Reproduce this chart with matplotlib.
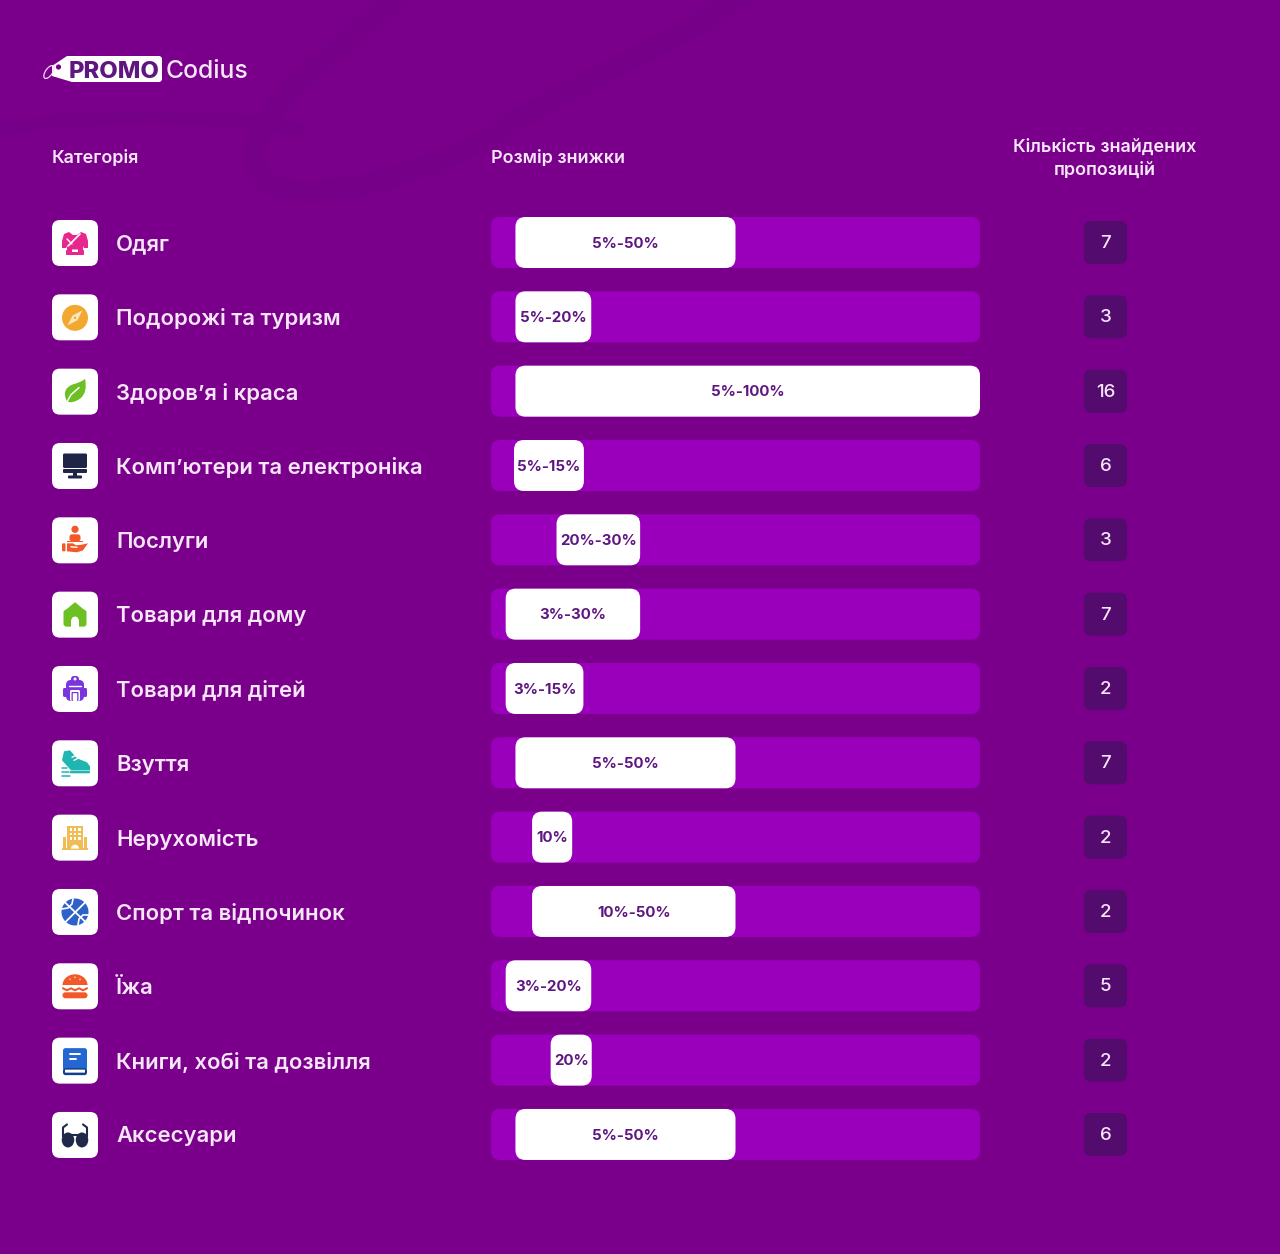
import matplotlib
matplotlib.use("Agg")
import matplotlib.pyplot as plt
from matplotlib.patches import FancyBboxPatch, Polygon, Circle, PathPatch, Ellipse, Wedge, Rectangle
from matplotlib.path import Path

plt.rcParams['font.family'] = ['Inter', 'Roboto', 'DejaVu Sans']

# ---------- data ----------
categories = ["Одяг", "Подорожі та туризм", "Здоров’я і краса", "Комп’ютери та електроніка",
              "Послуги", "Товари для дому", "Товари для дітей", "Взуття", "Нерухомість",
              "Спорт та відпочинок", "Їжа", "Книги, хобі та дозвілля", "Аксесуари"]
range_labels = ["5%-50%", "5%-20%", "5%-100%", "5%-15%", "20%-30%", "3%-30%", "3%-15%",
                "5%-50%", "10%", "10%-50%", "3%-20%", "20%", "5%-50%"]
# pill extents as drawn, read on the 0-100 track
pill_start = [5.0, 5.0, 5.0, 4.7, 13.4, 3.0, 3.0, 5.0, 8.4, 8.4, 3.0, 12.2, 5.0]
pill_end = [50.0, 20.5, 100.0, 19.0, 30.5, 30.5, 18.9, 50.0, 16.6, 50.0, 20.5, 20.6, 50.0]
offer_counts = [7, 3, 16, 6, 3, 7, 2, 7, 2, 2, 5, 2, 6]
headers = ["Категорія", "Розмір знижки", "Кількість знайдених\nпропозицій"]

BG = "#7A008C"
TRACK = "#9A00BC"
PILL_TXT = "#5F1680"
COUNT_BG = "#530B6E"
LIGHT = "#F6E6F8"
W, H = 1280, 1254
ROW0, ROWSTEP = 242.5, 74.33
n = len(categories)


def row_y(i):
    return ROW0 + ROWSTEP * i


fig = plt.figure(figsize=(W / 100, H / 100), dpi=100, facecolor=BG)
ax = fig.add_axes([0, 0, 1, 1])
ax.set_xlim(0, W)
ax.set_ylim(H, 0)
ax.axis("off")

# ---------- faint background swirl ----------
swirl_col = "#770088"
for verts, lw in [
    ([(405, -10), (330, 60), (245, 110), (255, 165), (265, 215), (400, 190), (500, 130),
      (600, 70), (700, 30), (750, -10)], 22),
    ([(-10, 130), (90, 115), (190, 110), (300, 130)], 14),
]:
    codes = [Path.MOVETO] + [Path.CURVE4] * (len(verts) - 1)
    ax.add_patch(PathPatch(Path(verts, codes), fc="none", ec=swirl_col, lw=lw * 0.72, capstyle="round", zorder=0))


# ---------- shape helpers ----------
def rr(x0, y0, x1, y1, r, col, z=3, a=ax, **kw):
    p = FancyBboxPatch((x0, y0), x1 - x0, y1 - y0, boxstyle=f"round,pad=0,rounding_size={r}",
                       fc=col, ec="none", zorder=z, **kw)
    a.add_patch(p)
    return p


def poly(cx, cy, pts, col, z=4):
    ax.add_patch(Polygon([(cx + x, cy + y) for x, y in pts], closed=True, fc=col, ec="none", zorder=z))


def circ(cx, cy, r, col, z=4):
    ax.add_patch(Circle((cx, cy), r, fc=col, ec="none", zorder=z))


def line(cx, cy, pts, col, lw=1.4, z=5):
    ax.plot([cx + p[0] for p in pts], [cy + p[1] for p in pts], color=col, lw=lw, zorder=z,
            solid_capstyle="round", solid_joinstyle="round")


def curve(cx, cy, verts, col, z=4):
    v = [(cx + x, cy + y) for x, y in verts]
    codes = [Path.MOVETO] + [Path.CURVE3] * (len(v) - 2) + [Path.CLOSEPOLY]
    ax.add_patch(PathPatch(Path(v, codes), fc=col, ec="none", zorder=z))


# ---------- icons (pictograms on the tiles) ----------
def icon_clothes(x, y):
    c = "#E8278E"
    poly(x, y, [(-6, -11), (-2, -8), (2, -8), (6, -11), (11, -9), (13, -2), (13, 5), (9, 5), (8, 3), (8, 8),
                (-8, 8), (-8, 3), (-9, 5), (-13, 5), (-13, -2), (-11, -9)], c)
    line(x, y, [(-7, 3), (5, -9)], "white", 1.2)
    line(x, y, [(-8, -4), (-3, 1)], "white", 1.0)
    rr(x - 9, y + 7, x + 9, y + 12, 0.8, c, z=4)
    rr(x - 3, y + 6.5, x + 3, y + 9, 0.5, "white", z=5)


def icon_compass(x, y):
    circ(x, y, 13, "#F2A72E")
    poly(x, y, [(7.5, -7.5), (2.4, 2.4), (-7.5, 7.5), (-2.4, -2.4)], "#FBE6BD", z=5)
    circ(x, y, 1.2, "#F2A72E", z=6)


def icon_leaf(x, y):
    c = "#6CC024"
    curve(x, y, [(-8, 10), (-14, -2), (-3, -7), (8, -10), (10, -13), (13, 1), (5, 7), (-2, 12), (-8, 10), (-8, 10)], c)
    line(x, y, [(-9, 12), (-4, 3), (4, -4)], "white", 1.1)


def icon_monitor(x, y):
    c = "#1F2547"
    rr(x - 12, y - 12, x + 12, y + 2.5, 1.5, c, z=4)
    rr(x - 12, y + 3.5, x + 12, y + 7.5, 1, c, z=4)
    ax.add_patch(Rectangle((x - 2, y + 7), 4, 4, fc=c, ec="none", zorder=4))
    rr(x - 7, y + 10, x + 7, y + 13, 1, c, z=4)


def icon_service(x, y):
    c = "#F2592A"
    circ(x, y - 11, 3.6, c)
    rr(x - 5.5, y - 6, x + 5.5, y + 1, 2.5, c, z=4)
    ax.add_patch(Rectangle((x - 8, y + 0.5), 16, 1.6, fc=c, ec="none", zorder=4))
    rr(x - 13, y + 3, x - 9.5, y + 11, 1, c, z=4)
    poly(x, y, [(-8, 3), (-2, 3), (1, 5), (6, 4.5), (13, 3), (8, 10), (2, 12), (-8, 11)], c)
    line(x, y, [(-4, 6.5), (2, 7)], "white", 1.0)


def icon_home(x, y):
    c = "#6CC024"
    rr(x - 11.5, y - 5, x + 11.5, y + 12, 3, c, z=4)
    poly(x, y, [(0, -12.5), (11.3, -3), (-11.3, -3)], c)
    circ(x, y + 5.5, 3.6, "white", z=5)
    ax.add_patch(Rectangle((x - 3.6, y + 5.5), 7.2, 6.6, fc="white", ec="none", zorder=5))


def icon_backpack(x, y):
    c = "#7A36DC"
    rr(x - 9, y - 9, x + 9, y + 12, 5, c, z=4)
    rr(x - 4, y - 13, x + 4, y - 6, 3, c, z=4)
    circ(x, y - 10, 1.5, "white", z=5)
    rr(x - 12, y - 1, x - 8, y + 8, 1.5, c, z=4)
    rr(x + 8, y - 1, x + 12, y + 8, 1.5, c, z=4)
    rr(x - 5, y + 1, x + 5, y + 12, 1.5, "white", z=5)
    rr(x - 3.5, y + 3, x + 3.5, y + 12, 1, c, z=6)
    rr(x - 2.2, y + 4.2, x + 2.2, y + 12, 0.5, "white", z=7)
    line(x, y, [(-6, -3), (6, -3)], "white", 1.0)


def icon_shoe(x, y):
    c = "#1FB5B0"
    poly(x, y, [(-11, -12), (-5, -13), (2, -5), (12, -1), (15, 3), (15, 7), (-4, 7), (-13, -3)], c)
    rr(x - 5, y + 7.5, x + 15, y + 10, 1, c, z=4)
    line(x, y, [(-3, -6), (1, -8)], "white", 1.0)
    line(x, y, [(-1, -3), (3, -5)], "white", 1.0)
    for dy, x0, x1 in [(5, -13, -8), (9, -13, -6), (12.5, -13, -5)]:
        line(x, y, [(x0, dy), (x1, dy)], c, 1.1)


def icon_building(x, y):
    c = "#F2BC55"
    ax.add_patch(Rectangle((x - 8, y - 12), 16, 23, fc=c, ec="none", zorder=4))
    ax.add_patch(Rectangle((x - 12, y - 1), 3, 12, fc=c, ec="none", zorder=4))
    ax.add_patch(Rectangle((x + 9, y - 1), 3, 12, fc=c, ec="none", zorder=4))
    ax.add_patch(Rectangle((x - 13, y + 10.5), 26, 1.6, fc=c, ec="none", zorder=4))
    for r in range(3):
        for col in range(3):
            ax.add_patch(Rectangle((x - 5.5 + col * 4.2, y - 9.5 + r * 4.5), 2.6, 2.6, fc="white", ec="none", zorder=5))
    ax.add_patch(Wedge((x, y + 11), 4, 180, 360, fc="white", ec="none", zorder=5))


def icon_ball(x, y):
    c = "#2F62C8"
    circ(x, y, 13.5, c)
    line(x, y, [(-10, -9.5), (10, 9.5)], "white", 1.3)
    line(x, y, [(-9.5, 10), (10, -9.5)], "white", 1.3)
    ax.plot(*zip(*[(x - 2 + px, y - 13 + py) for px, py in [(0, 0), (-1, 5), (-5, 9), (-11, 10)]]), color="white", lw=1.2, zorder=5)
    ax.plot(*zip(*[(x + 13 + px, y + 3 + py) for px, py in [(0, 0), (-5, 0), (-9, 4), (-10, 10)]]), color="white", lw=1.2, zorder=5)


def icon_burger(x, y):
    c = "#F2592A"
    ax.add_patch(Ellipse((x, y - 1), 25, 22, fc=c, ec="none", zorder=4))
    ax.add_patch(Rectangle((x - 14, y - 1), 28, 12, fc="white", ec="none", zorder=4.5))
    for px, py in [(-5, -7), (0, -9), (5, -7)]:
        circ(x + px, y + py, 0.8, "#FBD9CB", z=5)
    line(x, y, [(-12, 2), (-8, 4), (-4, 2), (0, 4), (4, 2), (8, 4), (12, 2)], c, 1.5)
    rr(x - 12.5, y + 6, x + 12.5, y + 12, 3, c, z=5)


def icon_book(x, y):
    c = "#2467D2"
    d = "#123F8C"
    rr(x - 12, y - 13, x + 12, y + 9, 2.5, c, z=4)
    rr(x - 12, y + 7, x + 12, y + 14, 2.5, d, z=4)
    rr(x - 10, y + 8.5, x + 10, y + 11.5, 0.5, "white", z=5)
    line(x, y, [(-5, -7), (5, -7)], "white", 1.4)
    line(x, y, [(-5, -2.5), (1, -2.5)], "white", 1.4)


def icon_glasses(x, y):
    c = "#1F2A4A"
    ax.add_patch(Ellipse((x - 7, y + 4.5), 12.5, 15, fc=c, ec="none", zorder=4))
    ax.add_patch(Ellipse((x + 7, y + 4.5), 12.5, 15, fc=c, ec="none", zorder=4))
    line(x, y, [(-12, 1), (-12, -8), (-8, -11)], c, 1.5)
    line(x, y, [(12, 1), (12, -8), (8, -11)], c, 1.5)
    line(x, y, [(-3, 0), (3, 0)], c, 1.5)


icons = [icon_clothes, icon_compass, icon_leaf, icon_monitor, icon_service, icon_home, icon_backpack,
         icon_shoe, icon_building, icon_ball, icon_burger, icon_book, icon_glasses]
icon_dy = [0, 0.5, 0, -0.5, 0, 0, 0, 0, 0, 0, 0, 0.5, 0.5]

# ---------- logo ----------
poly(0, 0, [(67, 56), (160, 56), (162, 58), (162, 80), (160, 82), (72, 82), (52, 76), (52, 66)], "white")
circ(58.5, 67, 2.6, BG, z=5)
ax.add_patch(Ellipse((49, 72), 7, 15, angle=35, fc="none", ec="#F4D9F7", lw=0.9, zorder=6))
ax.text(114, 71.5, "PROMO", color="#5F1680", fontsize=17.2, fontweight=800, ha="center", va="center", zorder=6)
ax.text(166, 71.5, "Codius", color=LIGHT, fontsize=17.8, fontweight="medium", ha="left", va="center", zorder=6)

# ---------- headers ----------
hdr = dict(color=LIGHT, fontsize=12.95, fontweight="semibold", va="center")
ax.text(52, 159, headers[0], ha="left", **hdr)
ax.text(491, 159, headers[1], ha="left", fontstretch="normal", **hdr)
ax.text(1104.5, 159, headers[2], ha="center", linespacing=1.42, **hdr)

# ---------- bars on their own 0-100 axes ----------
X0, X1 = 491, 980
bar_ax = fig.add_axes([X0 / W, 0, (X1 - X0) / W, 1])
bar_ax.set_xlim(0, 100)
bar_ax.set_ylim((H - ROW0) / ROWSTEP, -ROW0 / ROWSTEP)
bar_ax.axis("off")
bar_ax.patch.set_alpha(0)
ux = (X1 - X0) / 100
aspect = ux / ROWSTEP
hh = 25.5 / ROWSTEP
for i in range(n):
    for s, e, col, r, z in [(0, 100, TRACK, 9, 1), (pill_start[i], pill_end[i], "white", 10, 2)]:
        p = FancyBboxPatch((s, i - hh), e - s, 2 * hh,
                           boxstyle=f"round,pad=0,rounding_size={r / ux}", mutation_aspect=aspect,
                           fc=col, ec="none", zorder=z)
        bar_ax.add_patch(p)
    bar_ax.text((pill_start[i] + pill_end[i]) / 2, i + 1.2 / ROWSTEP, range_labels[i], color=PILL_TXT,
                fontsize=10.8, fontweight="bold", ha="center", va="center", zorder=3)

# ---------- rows ----------
for i in range(n):
    y = row_y(i)
    rr(52, y - 22.5, 98, y + 23.5, 8, "white", z=3)
    icons[i](75, y + 0.5 + icon_dy[i])
    ax.text(116, y + 2, categories[i], color=LIGHT, fontsize=15.9, fontweight="semibold", ha="left", va="center", zorder=4)
    rr(1084, y - 21.5, 1127, y + 21.5, 7, COUNT_BG, z=3)
    ax.text(1105.5, y + 1, str(offer_counts[i]), color=LIGHT, fontsize=13.5, fontweight="medium", ha="center", va="center", zorder=4)

fig.savefig("out.png", dpi=100, facecolor=BG)
